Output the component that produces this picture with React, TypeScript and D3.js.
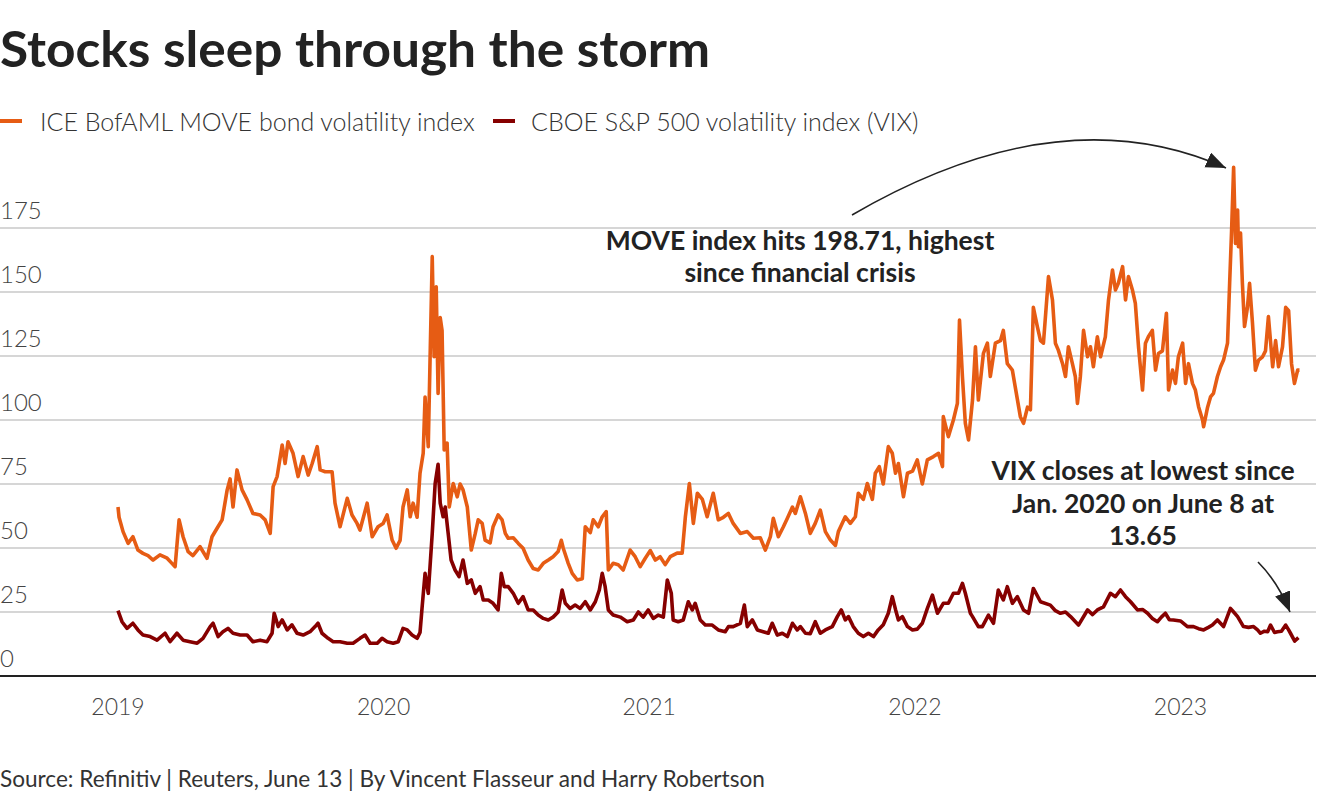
import React from "react";
import * as d3 from "d3";

type P = [number, number];

// ICE BofAML MOVE index (decimal year, value)
const move2019: P[] = [[2019.000,66],[2019.004,62],[2019.019,56.4],[2019.038,51.8],[2019.056,54.4],[2019.075,49.2],[2019.094,47.9],[2019.113,47],[2019.132,45.3],[2019.158,47.3],[2019.185,46],[2019.203,44],[2019.215,42.7],[2019.230,61],[2019.245,54.4],[2019.264,48.6],[2019.282,47],[2019.309,50.5],[2019.335,46],[2019.354,54.4],[2019.373,57.7],[2019.392,61],[2019.411,72.7],[2019.422,77],[2019.433,66],[2019.448,80.5],[2019.467,72.7],[2019.486,68.8],[2019.508,63.5],[2019.535,62.9],[2019.554,61],[2019.573,55.7],[2019.584,74],[2019.599,77.9],[2019.618,90.2],[2019.629,83],[2019.640,91.5],[2019.659,87],[2019.678,77.9],[2019.697,85.7],[2019.716,78.5],[2019.731,83],[2019.750,89.6],[2019.761,80.5],[2019.780,79.8],[2019.806,79.8],[2019.817,67.5],[2019.836,58.3],[2019.863,69.4],[2019.881,62.9],[2019.900,59.6],[2019.911,57],[2019.938,67.5],[2019.957,54.4],[2019.979,58.3],[2019.998,59.6]];
const move2020: P[] = [[2020.013,62.9],[2020.032,53.1],[2020.047,49.9],[2020.062,53],[2020.073,66],[2020.089,72.7],[2020.100,62.2],[2020.111,67.5],[2020.126,62],[2020.137,79.2],[2020.149,87],[2020.156,109],[2020.168,89.6],[2020.175,124.7],[2020.183,163.8],[2020.190,124.7],[2020.198,152],[2020.205,110.4],[2020.213,140],[2020.220,135],[2020.228,88.3],[2020.239,91],[2020.247,66],[2020.262,75.2],[2020.277,70],[2020.288,75],[2020.299,72.7],[2020.315,66],[2020.330,49.2],[2020.345,55.7],[2020.356,61],[2020.371,59.6],[2020.382,53.1],[2020.401,52],[2020.412,58.3],[2020.431,62.9],[2020.446,61],[2020.458,55.7],[2020.469,53.8],[2020.488,54],[2020.507,51.8],[2020.525,49.9],[2020.544,45.3],[2020.563,42],[2020.582,41.4],[2020.601,44],[2020.620,45.3],[2020.638,46.6],[2020.657,48.6],[2020.669,53],[2020.676,50],[2020.695,44],[2020.710,40.1],[2020.729,37.5],[2020.748,38],[2020.759,58.3],[2020.778,56],[2020.789,61],[2020.808,58.3],[2020.823,62.2],[2020.838,64.2],[2020.846,41.4],[2020.864,44],[2020.883,43.5],[2020.902,41.4],[2020.928,49.2],[2020.947,46.6],[2020.966,42.7],[2020.985,46]];
const move2021: P[] = [[2021.004,49],[2021.023,45.3],[2021.041,46.6],[2021.060,43.5],[2021.079,46.6],[2021.105,48],[2021.124,48],[2021.136,62.2],[2021.151,75.2],[2021.166,59.6],[2021.181,71.4],[2021.200,69],[2021.218,62.2],[2021.241,71.4],[2021.260,61],[2021.279,62],[2021.298,63.5],[2021.316,59.6],[2021.343,55.7],[2021.369,56.4],[2021.392,53.8],[2021.418,54],[2021.437,49.2],[2021.456,54.4],[2021.467,61.6],[2021.486,54.4],[2021.505,58.3],[2021.520,61.6],[2021.539,66],[2021.550,63.5],[2021.569,70],[2021.588,63.5],[2021.606,55.7],[2021.625,59.6],[2021.644,64.8],[2021.663,56.4],[2021.682,53.1],[2021.701,51],[2021.712,56.4],[2021.738,62.2],[2021.757,59.6],[2021.776,62.2],[2021.787,71.4],[2021.806,69],[2021.821,75.2],[2021.840,69],[2021.851,79.2],[2021.866,81.8],[2021.881,75],[2021.900,89.6],[2021.915,87],[2021.927,79.2],[2021.938,83],[2021.957,70],[2021.972,79.2],[2021.991,80]];
const move2022: P[] = [[2022.009,84.4],[2022.028,75],[2022.047,84.4],[2022.070,85.7],[2022.089,87],[2022.104,81.8],[2022.107,101.3],[2022.126,93.5],[2022.145,100],[2022.160,106.5],[2022.168,139],[2022.179,117],[2022.190,98.7],[2022.202,92.2],[2022.217,107.8],[2022.228,128.6],[2022.239,107.8],[2022.258,126],[2022.273,130],[2022.284,117],[2022.303,130],[2022.322,131],[2022.333,135],[2022.348,122],[2022.367,119.5],[2022.382,110.4],[2022.397,101.3],[2022.409,98.7],[2022.424,105],[2022.435,104],[2022.446,144],[2022.461,136.5],[2022.473,131],[2022.484,130],[2022.503,156],[2022.518,146.9],[2022.529,130],[2022.540,127.3],[2022.556,122],[2022.567,117],[2022.578,128.6],[2022.593,122],[2022.604,117],[2022.612,106.5],[2022.623,117],[2022.635,135],[2022.650,124.7],[2022.661,128.6],[2022.672,120.8],[2022.687,132.5],[2022.699,124.7],[2022.717,132.5],[2022.729,146.9],[2022.744,158.6],[2022.755,150.8],[2022.766,153.4],[2022.782,159.9],[2022.793,146.9],[2022.804,156],[2022.819,150.8],[2022.830,145.6],[2022.842,128.6],[2022.857,111.7],[2022.868,130],[2022.879,132.5],[2022.894,135],[2022.906,119.5],[2022.917,126],[2022.932,127],[2022.947,141.7],[2022.955,111.7],[2022.970,119.5],[2022.981,114.3],[2022.992,124.7]];
const move2023: P[] = [[2023.008,130],[2023.019,114.3],[2023.030,122],[2023.045,114.3],[2023.056,111.7],[2023.068,105.2],[2023.083,100],[2023.087,97.4],[2023.102,105],[2023.113,109],[2023.124,110.4],[2023.139,117],[2023.151,120.8],[2023.162,123.4],[2023.177,130],[2023.185,153.4],[2023.192,173],[2023.200,198.71],[2023.207,169],[2023.215,182],[2023.218,167.7],[2023.226,173],[2023.233,153.4],[2023.241,136.5],[2023.252,144],[2023.260,153.4],[2023.271,137.8],[2023.282,119.5],[2023.294,123.4],[2023.309,124.7],[2023.320,127],[2023.331,140.4],[2023.347,120.8],[2023.358,131],[2023.369,120.8],[2023.384,128.6],[2023.396,144],[2023.407,142.7],[2023.418,122],[2023.429,114.3],[2023.441,119.5],[2023.448,119.5]];

// CBOE VIX (decimal year, value)
const vix2019: P[] = [[2019.000,25.5],[2019.015,21.2],[2019.034,18.6],[2019.056,20.6],[2019.075,18],[2019.094,16],[2019.121,15.4],[2019.147,14],[2019.177,16.7],[2019.196,13.4],[2019.222,16.7],[2019.245,14],[2019.271,13.4],[2019.298,12.8],[2019.320,14.7],[2019.347,19.3],[2019.358,20.6],[2019.377,15.4],[2019.395,17.3],[2019.414,18.6],[2019.433,16.7],[2019.460,16],[2019.486,16],[2019.508,13.4],[2019.535,14],[2019.561,13.4],[2019.580,16.7],[2019.588,24.5],[2019.603,19.3],[2019.618,21.9],[2019.637,18],[2019.655,20],[2019.674,16.7],[2019.697,16],[2019.723,17.3],[2019.742,19.3],[2019.753,20.6],[2019.768,16.7],[2019.791,14.7],[2019.810,13.4],[2019.836,13.4],[2019.863,12.8],[2019.885,12.8],[2019.911,14.7],[2019.930,16],[2019.949,12.8],[2019.976,12.8],[2019.994,14.7]];
const vix2020: P[] = [[2020.013,13.4],[2020.036,12.8],[2020.055,13.4],[2020.073,18.6],[2020.089,18],[2020.107,16],[2020.126,14.7],[2020.137,17],[2020.145,27],[2020.156,40.1],[2020.168,32.3],[2020.183,55.7],[2020.194,75.2],[2020.205,82.7],[2020.213,67.5],[2020.224,62.2],[2020.232,66],[2020.243,55.7],[2020.254,45.3],[2020.269,41.4],[2020.284,38.8],[2020.299,45.3],[2020.315,36.2],[2020.330,37.5],[2020.345,32.3],[2020.363,34.9],[2020.375,29.7],[2020.394,29.7],[2020.412,28.4],[2020.431,25.8],[2020.443,40.1],[2020.454,34.9],[2020.469,34.9],[2020.488,32.3],[2020.507,28.4],[2020.525,31],[2020.544,25.8],[2020.563,25.8],[2020.582,23.8],[2020.601,22.5],[2020.620,21.9],[2020.638,23],[2020.657,25],[2020.672,33.6],[2020.684,28.4],[2020.702,26.4],[2020.721,27.7],[2020.740,26.4],[2020.759,29],[2020.778,25.8],[2020.797,29],[2020.812,33.6],[2020.823,40.1],[2020.834,34.9],[2020.846,25.8],[2020.864,23.8],[2020.891,23],[2020.917,21.2],[2020.940,21.9],[2020.959,25],[2020.977,23],[2020.996,25.8]];
const vix2021: P[] = [[2021.015,22.5],[2021.034,23.8],[2021.053,23],[2021.068,37.5],[2021.083,32.3],[2021.090,21.9],[2021.109,21.2],[2021.128,21.9],[2021.147,29],[2021.162,25.8],[2021.173,28.4],[2021.192,21.9],[2021.211,19.9],[2021.237,19.9],[2021.260,18],[2021.286,17.3],[2021.298,19.3],[2021.316,19.3],[2021.343,20.6],[2021.358,27.7],[2021.369,19.3],[2021.388,21.9],[2021.407,18],[2021.429,17.3],[2021.448,16.7],[2021.463,20.6],[2021.482,16],[2021.501,16.7],[2021.520,15.4],[2021.539,20.6],[2021.557,18],[2021.569,19.3],[2021.588,16.7],[2021.606,16.5],[2021.625,21.2],[2021.644,16.7],[2021.663,18],[2021.689,19.3],[2021.708,23.2],[2021.723,25.8],[2021.738,21.9],[2021.750,23.2],[2021.768,19.3],[2021.787,16.7],[2021.806,15.4],[2021.825,16.7],[2021.844,15.4],[2021.862,18],[2021.881,20],[2021.900,24.5],[2021.915,31],[2021.927,26],[2021.938,21.9],[2021.953,23.2],[2021.972,19.3],[2021.991,18]];
const vix2022: P[] = [[2022.009,18.3],[2022.028,20.6],[2022.047,26.4],[2022.066,31.6],[2022.085,24.5],[2022.107,28.4],[2022.126,28.4],[2022.145,32.3],[2022.164,32.3],[2022.179,36.2],[2022.190,32.3],[2022.209,24.5],[2022.217,23.2],[2022.239,19.3],[2022.254,19.3],[2022.277,23.8],[2022.296,20.6],[2022.314,33.6],[2022.333,29.7],[2022.348,34.9],[2022.367,28.4],[2022.386,31],[2022.409,25.8],[2022.428,24.5],[2022.446,34.2],[2022.473,29],[2022.510,27.7],[2022.529,25.5],[2022.548,24.5],[2022.567,25],[2022.586,23.2],[2022.616,19.9],[2022.650,25.8],[2022.669,24],[2022.687,25.8],[2022.710,27],[2022.736,32.3],[2022.755,31],[2022.774,33.6],[2022.793,31],[2022.812,29],[2022.838,25.8],[2022.857,26],[2022.876,24.5],[2022.894,22.5],[2022.913,21.2],[2022.928,23],[2022.943,24.5],[2022.958,22],[2022.973,21.9]];
const vix2023: P[] = [[2023.000,21.5],[2023.026,19.3],[2023.049,19.3],[2023.068,18.5],[2023.087,18],[2023.105,19],[2023.120,19.9],[2023.139,21.9],[2023.162,19.3],[2023.188,26.4],[2023.200,25],[2023.215,23.2],[2023.237,19.3],[2023.256,19],[2023.275,19.3],[2023.290,18],[2023.301,16.7],[2023.316,17.5],[2023.328,17.3],[2023.339,19.9],[2023.354,17],[2023.365,17.3],[2023.380,17.5],[2023.396,19.9],[2023.407,18],[2023.414,16.7],[2023.430,13.65],[2023.444,15]];

const yTicks = [0, 25, 50, 75, 100, 125, 150, 175];
const xTicks = [2019, 2020, 2021, 2022, 2023];
const seriesNames = ["ICE BofAML MOVE bond volatility index", "CBOE S&P 500 volatility index (VIX)"];
const title = "Stocks sleep through the storm";
const moveNote = ["MOVE index hits 198.71, highest", "since financial crisis"];
const vixNote = ["VIX closes at lowest since", "Jan. 2020 on June 8 at", "13.65"];
const source = "Source: Refinitiv | Reuters, June 13 | By Vincent Flasseur and Harry Robertson";

const ORANGE = "#e65c14";
const DARKRED = "#860000";
const FONT = "'Source Sans Pro', Lato, 'Noto Sans', sans-serif";

export default function App() {
  const W = 1320, H = 800;
  const move = [...move2019, ...move2020, ...move2021, ...move2022, ...move2023];
  const vix = [...vix2019, ...vix2020, ...vix2021, ...vix2022, ...vix2023];
  const x = d3.scaleLinear().domain([2019, 2023.448]).range([118, 1299.5]);
  const y = d3.scaleLinear().domain([0, 175]).range([676, 228]);
  const line = d3.line<P>().x(d => x(d[0])).y(d => y(d[1])).curve(d3.curveLinear);

  return (
    <svg width={W} height={H} style={{ position: "absolute", left: 0, top: 0, background: "#fff" }} fontFamily={FONT}>
      <defs>
        <marker id="ah" markerUnits="userSpaceOnUse" markerWidth="22" markerHeight="18" refX="20" refY="8" orient="auto">
          <path d="M0,0 L20,8 L0,16 Z" fill="#222" />
        </marker>
      </defs>
      <text x={0} y={67} fontSize={50} fontWeight={700} fill="#222" textLength={710} lengthAdjust="spacingAndGlyphs">{title}</text>

      <line x1={0} x2={22} y1={121} y2={121} stroke={ORANGE} strokeWidth={4} />
      <text x={40} y={131} fontSize={25} fontWeight={300} fill="#333">{seriesNames[0]}</text>
      <line x1={493} x2={515} y1={121} y2={121} stroke={DARKRED} strokeWidth={4} />
      <text x={531} y={131} fontSize={25} fontWeight={300} fill="#333">{seriesNames[1]}</text>

      {yTicks.filter(t => t > 0).map(t => (
        <line key={t} x1={0} x2={1316} y1={y(t)} y2={y(t)} stroke="#c8c8c8" strokeWidth={1.5} />
      ))}
      {yTicks.map(t => (
        <text key={"l" + t} x={0} y={y(t) - 9} fontSize={24} fontWeight={300} fill="#444">{t}</text>
      ))}

      <path d={line(move) || ""} fill="none" stroke={ORANGE} strokeWidth={3.6} strokeLinejoin="round" />
      <path d={line(vix) || ""} fill="none" stroke={DARKRED} strokeWidth={3.6} strokeLinejoin="round" />

      <line x1={0} x2={1316} y1={y(0)} y2={y(0)} stroke="#222" strokeWidth={2} />
      {xTicks.map(t => (
        <text key={t} x={x(t)} y={715} textAnchor="middle" fontSize={23} fontWeight={300} fill="#444">{t}</text>
      ))}

      {moveNote.map((s, i) => (
        <text key={s} x={800} y={250 + i * 32} textAnchor="middle" fontSize={26.5} fontWeight={700} fill="#222">{s}</text>
      ))}
      <path d="M852,215 Q1060,94 1226,168" fill="none" stroke="#222" strokeWidth={1.6} markerEnd="url(#ah)" />

      {vixNote.map((s, i) => (
        <text key={s} x={1143} y={480 + i * 32.5} textAnchor="middle" fontSize={26.5} fontWeight={700} fill="#222">{s}</text>
      ))}
      <path d="M1258,562 Q1278,582 1290,612" fill="none" stroke="#222" strokeWidth={1.6} markerEnd="url(#ah)" />

      <text x={0} y={787} fontSize={22.6} fontWeight={400} fill="#333">{source}</text>
    </svg>
  );
}
